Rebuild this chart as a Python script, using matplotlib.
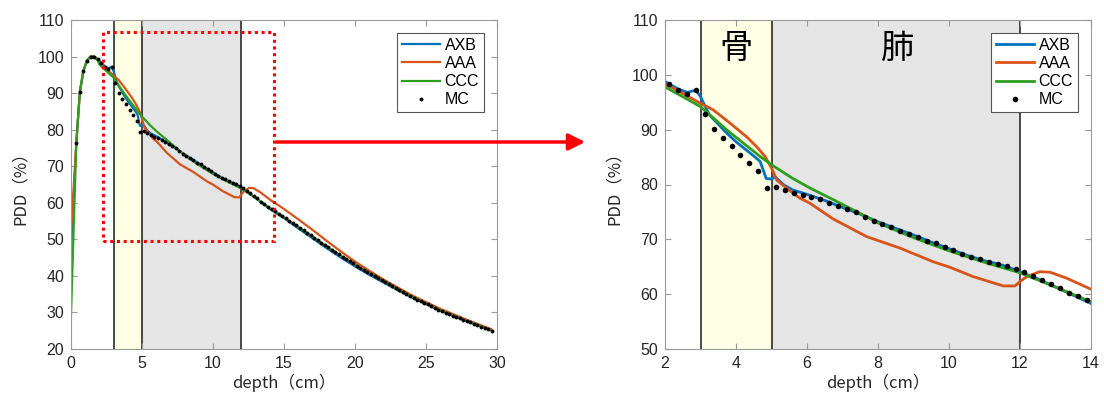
import numpy as np
import matplotlib
matplotlib.use('Agg')
import matplotlib.pyplot as plt
import matplotlib.patches as mpatches

plt.rcParams['font.family'] = ['Liberation Sans', 'Noto Sans CJK JP']

# MC (dots), voxel centres every 0.25 cm
mc_depth = [0.375 + 0.25 * k for k in range(118)]
mc_pdd = [76.4, 90.4, 96.1, 98.9, 100.0, 100.0, 99.3, 98.3, 97.2, 96.5,
          97.2, 92.8, 90.1, 88.4, 87.1, 85.4, 84.0, 82.4, 79.4, 79.6,
          79.0, 78.5, 78.1, 77.8, 77.3, 76.7, 76.0, 75.5, 75.0, 74.1,
          73.4, 72.8, 72.3, 71.6, 71.0, 70.5, 69.7, 69.3, 68.6, 68.0,
          67.3, 66.8, 66.4, 65.9, 65.5, 65.1, 64.5, 64.0, 63.3, 62.6,
          61.9, 61.2, 60.3, 59.7, 58.9, 58.3, 57.7, 57.0, 56.4, 55.7,
          55.1, 54.4, 53.8, 53.1, 52.5, 51.8, 51.1, 50.5, 49.8, 49.1,
          48.5, 47.8, 47.2, 46.5, 45.9, 45.2, 44.6, 44.0, 43.4, 42.8,
          42.2, 41.6, 41.0, 40.5, 39.9, 39.3, 38.8, 38.2, 37.7, 37.2,
          36.6, 36.1, 35.6, 35.1, 34.5, 34.0, 33.5, 33.1, 32.6, 32.2,
          31.7, 31.3, 30.8, 30.4, 29.9, 29.5, 29.1, 28.7, 28.4, 28.0,
          27.6, 27.3, 26.9, 26.5, 26.1, 25.8, 25.4, 25.0]

axb_depth = [0, 0.375, 0.625, 0.875, 1.125, 1.375, 1.625, 1.875, 2.125, 2.375,
             2.625, 2.875, 3.0, 3.25, 3.5, 3.75, 4.0, 4.25, 4.5, 4.68,
             4.85, 5.0, 5.1, 5.35, 5.6, 6.0, 6.5, 7.0, 7.5, 8.0,
             8.5, 9.0, 9.5, 10.0, 10.5, 11.0, 11.5, 12.0, 12.5, 13.0,
             13.5, 14.0, 15, 16, 17, 18, 19, 20, 21, 22,
             23, 24, 25, 26, 27, 28, 29, 29.6]
axb_pdd = [47.5, 76.4, 90.4, 96.1, 98.9, 100.0, 100.0, 99.3, 98.3, 97.4,
           96.8, 97.2, 96.0, 92.7, 91.0, 89.3, 87.8, 86.5, 85.2, 84.2,
           81.1, 81.0, 81.4, 79.9, 79.0, 78.2, 77.1, 75.8, 74.6, 73.2,
           72.0, 70.8, 69.5, 68.3, 67.1, 66.1, 65.3, 64.1, 62.8, 61.3,
           59.8, 58.3, 55.8, 53.0, 50.3, 47.6, 45.0, 42.6, 40.3, 38.2,
           36.1, 34.1, 32.3, 30.5, 28.9, 27.4, 26.0, 25.1]

aaa_depth = [0, 0.375, 0.625, 0.875, 1.125, 1.375, 1.625, 1.875, 2.0, 2.5,
             3.0, 3.36, 3.83, 4.3, 4.58, 4.82, 5.0, 5.15, 5.43, 5.8,
             6.08, 6.74, 7.68, 8.62, 9.56, 10.03, 10.68, 11.53, 11.86, 12.0,
             12.19, 12.56, 12.85, 13.32, 14.0, 15, 16, 17, 18, 19,
             20, 22, 24, 26, 28, 29.6]
aaa_pdd = [52.0, 76.4, 90.4, 96.1, 98.9, 100.0, 100.0, 99.2, 98.4, 96.6,
           94.8, 93.6, 91.2, 88.7, 86.9, 85.1, 83.0, 80.8, 79.3, 77.5,
           76.6, 73.7, 70.5, 68.4, 65.9, 64.9, 63.2, 61.5, 61.5, 62.3,
           63.2, 64.1, 64.0, 62.9, 60.9, 58.3, 55.5, 52.6, 49.6, 46.7,
           43.9, 39.0, 34.7, 31.0, 27.8, 25.4]

ccc_depth = [0, 0.375, 0.625, 0.875, 1.125, 1.375, 1.625, 1.875, 2.0, 3.0,
             3.75, 4.68, 5.0, 5.6, 6.1, 6.75, 7.5, 8.0, 9.0, 10.0,
             11.0, 12.0, 13.0, 14.0, 15, 16, 17, 18, 19, 20,
             21, 22, 23, 24, 25, 26, 27, 28, 29, 29.6]
ccc_pdd = [29.3, 76.4, 90.4, 96.1, 98.9, 100.0, 100.0, 99.0, 97.8, 94.2,
           89.9, 85.1, 83.6, 81.1, 79.3, 77.2, 74.7, 73.0, 70.3, 67.9,
           65.8, 63.9, 61.3, 58.6, 56.0, 53.4, 50.8, 48.1, 45.5, 43.1,
           40.8, 38.5, 36.3, 34.3, 32.4, 30.6, 29.0, 27.5, 26.0, 25.1]

bone = (3, 5)
lung = (5, 12)

c_axb = '#0072BD'
c_aaa = '#D95319'
c_ccc = '#2E9E1E'
spine_c = '#9a9a9a'
text_c = '#262626'

fig = plt.figure(figsize=(11.04, 3.99), dpi=100)
ax1 = fig.add_axes([71 / 1104, 50 / 399, 426 / 1104, 329 / 399])
ax2 = fig.add_axes([665 / 1104, 50 / 399, 426 / 1104, 329 / 399])


def draw(ax, lw, ms):
    ax.axvspan(bone[0], bone[1], color='#FFFFE5', zorder=0, lw=0)
    ax.axvspan(lung[0], lung[1], color='#E5E5E5', zorder=0, lw=0)
    for xv in (bone[0], bone[1], lung[1]):
        ax.axvline(xv, color='#1a1a1a', lw=1.1, zorder=1)
    ax.plot(axb_depth, axb_pdd, color=c_axb, lw=lw, label='AXB', zorder=2)
    ax.plot(aaa_depth, aaa_pdd, color=c_aaa, lw=lw, label='AAA', zorder=2)
    ax.plot(ccc_depth, ccc_pdd, color=c_ccc, lw=lw, label='CCC', zorder=2)
    ax.plot(mc_depth, mc_pdd, 'o', color='k', ms=ms, mew=0, label='MC', zorder=3)
    for s in ax.spines.values():
        s.set_color(spine_c)
    ax.tick_params(direction='in', top=True, right=True, length=4,
                   color=spine_c, labelcolor=text_c, labelsize=11.5, pad=5)
    ax.set_xlabel('depth（cm）', fontsize=12, color=text_c,
                  family=['Noto Sans CJK JP'], labelpad=2)
    ax.set_ylabel('PDD（%）', fontsize=12, color=text_c,
                  family=['Noto Sans CJK JP'], labelpad=6)
    leg = ax.legend(loc='upper right', bbox_to_anchor=(0.9695, 0.9605),
                    borderaxespad=0, fancybox=False, framealpha=1,
                    edgecolor='#555555', fontsize=11.5, handlelength=2.4,
                    handletextpad=0.3, labelspacing=0.2, borderpad=0.3,
                    markerscale=1.0)
    leg.get_frame().set_linewidth(0.8)


draw(ax1, 1.6, 2.8)
ax1.set_xlim(0, 30)
ax1.set_ylim(20, 110)
ax1.set_xticks(np.arange(0, 31, 5))
ax1.set_yticks(np.arange(20, 111, 10))

# zoom region
ax1.add_patch(mpatches.Rectangle((2.25, 49.5), 12.05, 57.3, fill=False,
                                 ec='#FF0000', lw=2.2, ls=(0, (1, 1.2)),
                                 zorder=4))

draw(ax2, 2.0, 4.0)
ax2.set_xlim(2, 14)
ax2.set_ylim(50, 110)
ax2.set_xticks(np.arange(2, 15, 2))
ax2.set_yticks(np.arange(50, 111, 10))
ax2.text(4.0, 104.8, '骨', fontsize=24, ha='center', va='center',
         family=['Noto Sans CJK JP'], color='k')
ax2.text(8.54, 104.8, '肺', fontsize=24, ha='center', va='center',
         family=['Noto Sans CJK JP'], color='k')

arrow = mpatches.FancyArrowPatch((274 / 1104, 1 - 142 / 399),
                                 (588 / 1104, 1 - 142 / 399),
                                 transform=fig.transFigure,
                                 arrowstyle='-|>,head_length=10,head_width=5',
                                 color='#FF0000', lw=2.5, mutation_scale=1)
fig.patches.append(arrow)

fig.savefig('out.png', dpi=100)
